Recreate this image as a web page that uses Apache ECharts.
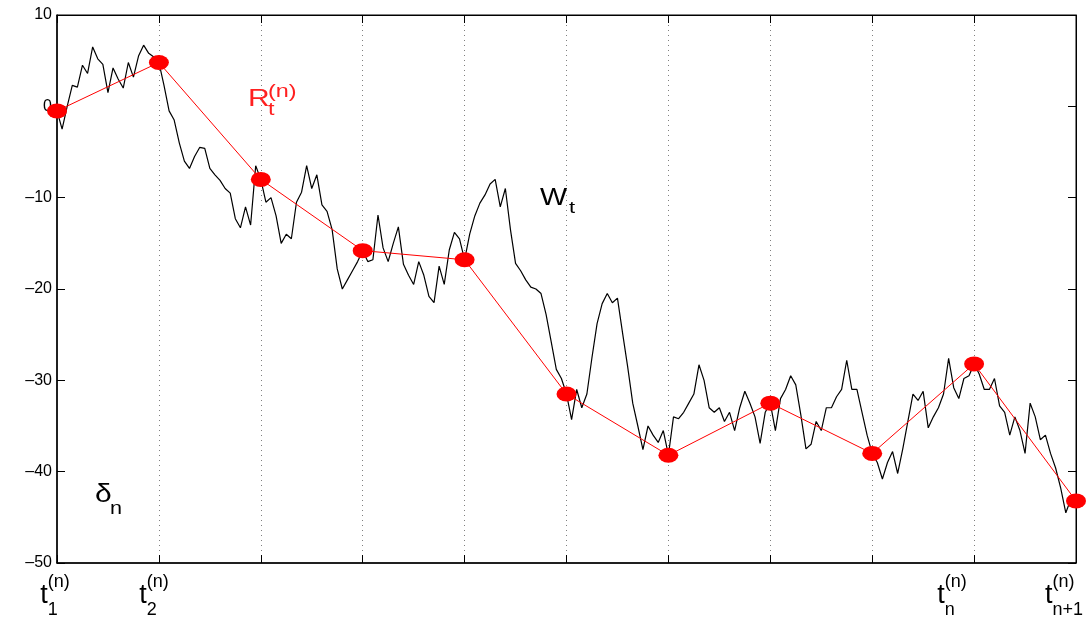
<!DOCTYPE html>
<html>
<head>
<meta charset="utf-8">
<title>Brownian path and piecewise linear approximation</title>
<script src="https://cdn.jsdelivr.net/npm/echarts@6.0.0/dist/echarts.min.js"></script>
<style>
  html, body { margin: 0; padding: 0; background: #ffffff; }
  #chart { width: 1092px; height: 622px; }
</style>
</head>
<body>
<div id="chart"></div>
<script>
// sample step of the black path, in units of the grid interval
const pathStep = 0.05;

// W_t, 20 samples per interval
const pathW = [
  -0.5, -2.5, 0, 2.3, 2.1, 4.5, 3.6, 6.5, 5.2, 4.6, 1.5, 4.2, 3.0, 2.0, 4.8, 3.2, 5.5, 6.7, 5.8, 5.4, 4.8,
  2.3, -0.5, -1.5, -4.0, -6.0, -6.8, -5.5, -4.5, -4.6, -6.8, -7.5, -8.1, -9.0, -9.5, -12.3, -13.3, -11.0, -13.0, -6.5, -8.0,
  -10.5, -10.0, -12.0, -15.0, -14.0, -14.5, -10.5, -9.4, -6.5, -9.0, -7.5, -10.8, -11.5, -13.5, -17.8, -20.0, -19.0, -18.0, -17.0, -15.8,
  -17.0, -16.8, -11.9, -15.5, -17.0, -15.0, -13.2, -17.3, -18.5, -19.5, -17.0, -18.5, -20.8, -21.5, -17.5, -19.5, -15.7, -13.8, -14.5, -16.8,
  -14.0, -12.0, -10.6, -9.7, -8.5, -8.0, -11.0, -9.0, -13.5, -17.2, -18.0, -19.0, -19.8, -20.0, -20.5, -22.8, -25.8, -28.8, -29.8, -31.5,
  -34.3, -31.0, -33.0, -31.5, -27.5, -23.8, -21.6, -20.5, -21.5, -21.0, -24.8, -28.5, -32.5, -35.0, -37.6, -35.0, -36.0, -36.8, -35.5, -38.2,
  -34.0, -34.2, -33.5, -32.5, -31.5, -28.3, -30.0, -33.0, -33.5, -33.0, -34.5, -33.5, -35.5, -33.0, -31.2, -32.5, -34.0, -36.9, -33.5, -32.5,
  -35.5, -32.0, -31.0, -29.5, -30.5, -33.8, -37.5, -37.0, -34.5, -35.5, -33.0, -33.0, -31.8, -31.0, -27.8, -31.0, -31.0, -33.5, -36.0, -38.0,
  -39.0, -40.8, -39.0, -37.8, -40.2, -37.5, -34.5, -31.5, -32.2, -31.2, -35.2, -34.0, -33.0, -31.5, -27.6, -30.8, -32.0, -29.8, -29.5, -28.2,
  -29.3, -31.0, -31.0, -29.8, -32.8, -33.5, -36.0, -34.0, -35.5, -38.0, -32.5, -34.0, -36.5, -36.0, -38.0, -39.6, -41.8, -44.5, -43.0, -43.2
];

// R_t^(n) knots at t_1 ... t_{n+1}
const knotR = [-0.5, 4.8, -8.0, -15.8, -16.8, -31.5, -38.2, -32.5, -38.0, -28.2, -43.2];

// subscripts of the labelled ticks ('' = no label)
const tickSubs = ['1', '2', '', '', '', '', '', '', '', 'n', 'n+1'];
// y tick values
const yTicks = [10, 0, -10, -20, -30, -40, -50];

const FONT = 'Liberation Sans';

// label horizontal nudge (px, + = right)
const labelShift = [3, 0, 0, 0, 0, 0, 0, 0, 0, -17, -1];

const pathData = pathW.map((w, i) => [i * pathStep, w]);
const knotData = knotR.map((r, i) => [i, r]);

const rich = {
  t: { fontSize: 27, fontFamily: FONT, color: '#000', lineHeight: 12 },
  tg: { fontSize: 27, fontFamily: FONT, color: 'transparent', lineHeight: 16 },
  sup: { fontSize: 18, fontFamily: FONT, color: '#000', lineHeight: 16 },
  sub: { fontSize: 18, fontFamily: FONT, color: '#000', lineHeight: 16 },
  sg: { fontSize: 18, fontFamily: FONT, color: 'transparent', lineHeight: 12 },
};
labelShift.forEach((s, i) => {
  if (s !== 0) rich['pad' + i] = { width: 2 * Math.abs(s), lineHeight: 12, color: 'transparent' };
});

// three stacked lines of equal width: superscript, t, subscript
function tickLabel(value) {
  const i = Math.round(value);
  const sub = tickSubs[i];
  if (!sub) return '';
  const s = labelShift[i];
  const lp = s > 0 ? `{pad${i}| }` : '';
  const rp = s < 0 ? `{pad${i}| }` : '';
  return [
    `${lp}{tg|t}{sup|(n)}{sg|${sub}}${rp}`,
    `${lp}{t|t}{sg|(n)}{sg|${sub}}${rp}`,
    `${lp}{tg|t}{sub|${sub}}{sg|(n)}${rp}`,
  ].join('\n');
}

const chart = echarts.init(document.getElementById('chart'));

const option = {
  backgroundColor: '#ffffff',
  animation: false,
  grid: {
    left: 57,
    right: 16,
    top: 15,
    bottom: 59,
    show: true,
    borderColor: '#000',
    borderWidth: 1,
    containLabel: false,
    outerBoundsMode: 'none',
  },
  xAxis: [
    {
      type: 'value',
      min: 0,
      max: 10,
      interval: 1,
      position: 'bottom',
      axisLine: { show: true, onZero: false, lineStyle: { color: '#000', width: 1.5 } },
      axisTick: { show: true, inside: true, length: 8, lineStyle: { color: '#000' } },
      splitLine: { show: true, lineStyle: { color: '#7f7f7f', width: 1, type: [1, 4] } },
      axisLabel: {
        show: true,
        showMinLabel: true,
        showMaxLabel: true,
        margin: 11,
        formatter: tickLabel,
        rich,
      },
    },
    {
      type: 'value',
      min: 0,
      max: 10,
      interval: 1,
      position: 'top',
      axisLine: { show: true, onZero: false, lineStyle: { color: '#000', width: 1 } },
      axisTick: { show: true, inside: true, length: 8, lineStyle: { color: '#000' } },
      splitLine: { show: false },
      axisLabel: { show: false },
    },
  ],
  yAxis: [
    {
      type: 'value',
      min: -50,
      max: 10,
      interval: 10,
      position: 'left',
      axisLine: { show: true, onZero: false, lineStyle: { color: '#000', width: 1.5 } },
      axisTick: { show: true, inside: true, length: 8, lineStyle: { color: '#000' } },
      splitLine: { show: false },
      axisLabel: {
        margin: 5,
        fontSize: 16,
        fontFamily: FONT,
        color: '#000',
        formatter: v => (yTicks.indexOf(v) >= 0 ? String(v).replace('-', '\u2013') : ''),
      },
    },
    {
      type: 'value',
      min: -50,
      max: 10,
      interval: 10,
      position: 'right',
      axisLine: { show: true, onZero: false, lineStyle: { color: '#000', width: 1 } },
      axisTick: { show: true, inside: true, length: 8, lineStyle: { color: '#000' } },
      splitLine: { show: false },
      axisLabel: { show: false },
    },
  ],
  series: [
    {
      name: 'W',
      type: 'line',
      data: pathData,
      showSymbol: false,
      symbol: 'none',
      lineStyle: { color: '#000', width: 1.2 },
      z: 2,
    },
    {
      name: 'R',
      type: 'line',
      data: knotData,
      symbol: 'circle',
      symbolSize: [20, 15],
      itemStyle: { color: '#ff0000' },
      lineStyle: { color: '#ff0000', width: 1 },
      z: 3,
    },
  ],
  graphic: [
    { type: 'text', left: 248, top: 87, scaleX: 1.25, style: { text: 'R', fill: '#ff2020', fontSize: 24, fontFamily: FONT } },
    { type: 'text', left: 268, top: 83, scaleX: 1.3, style: { text: '(n)', fill: '#ff2020', fontSize: 18, fontFamily: FONT } },
    { type: 'text', left: 268, top: 101, scaleX: 1.3, style: { text: 't', fill: '#ff2020', fontSize: 18, fontFamily: FONT } },
    { type: 'text', left: 540, top: 187, scaleX: 1.25, style: { text: 'W', fill: '#000', fontSize: 23, fontFamily: FONT } },
    { type: 'text', left: 569, top: 200, scaleX: 1.3, style: { text: 't', fill: '#000', fontSize: 17, fontFamily: FONT } },
    { type: 'text', left: 95, top: 483, scaleX: 1.2, style: { text: '\u03b4', fill: '#000', fontSize: 25, fontFamily: FONT } },
    { type: 'text', left: 110, top: 500, scaleX: 1.2, style: { text: 'n', fill: '#000', fontSize: 18, fontFamily: FONT } },
  ],
};

chart.setOption(option);
</script>
</body>
</html>
